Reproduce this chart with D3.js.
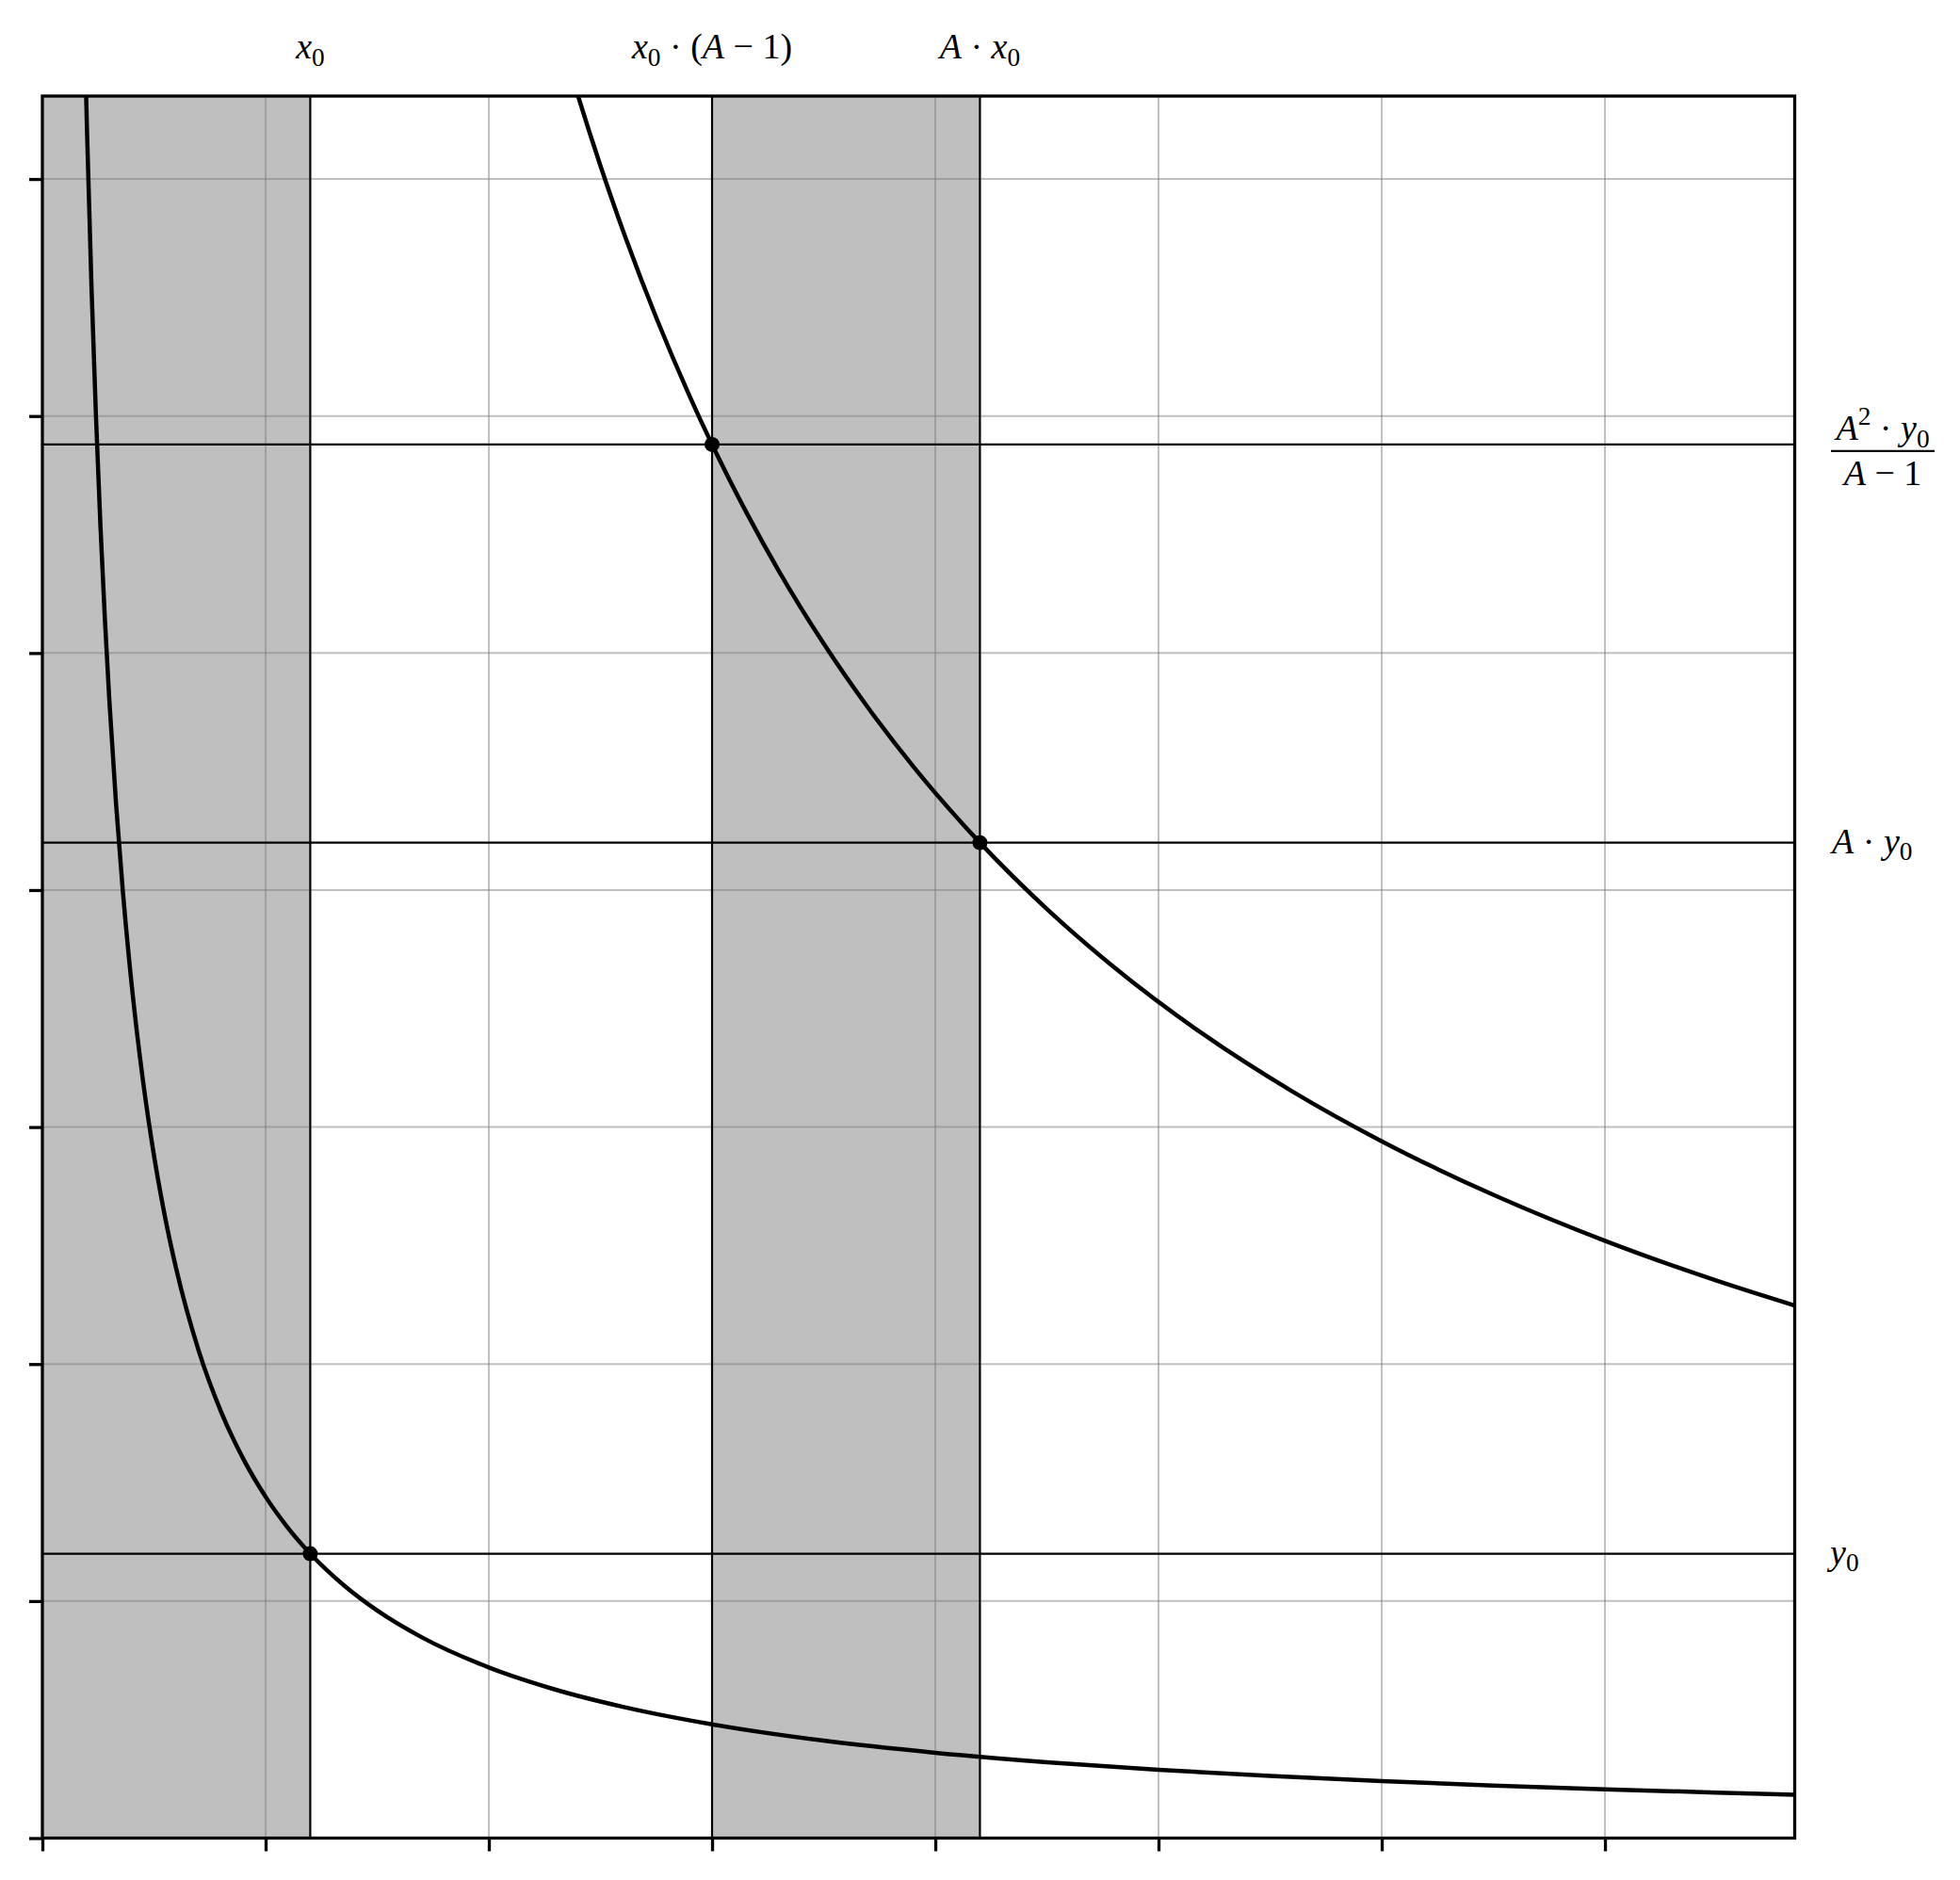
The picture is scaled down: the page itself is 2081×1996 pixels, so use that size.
<!DOCTYPE html>
<html>
<head>
<meta charset="utf-8">
<script src="https://cdn.jsdelivr.net/npm/d3@7"></script>
<style>
  body { margin: 0; background: #fff; }
  text { font-family: "Liberation Serif", "DejaVu Serif", serif; fill: #000; }
</style>
</head>
<body>
<svg id="chart" width="2081" height="1996"></svg>
<script>
//////////////////////////////////////
//////////// DATA ////////////////////
//////////////////////////////////////

// lower hyperbola (through x0, y0)
var lowX = [0.18, 0.19, 0.2, 0.22, 0.24, 0.26, 0.28, 0.3, 0.33, 0.36, 0.4, 0.45, 0.5, 0.55, 0.6, 0.7, 0.8, 0.9, 1.0, 1.1, 1.2,
            1.35, 1.5, 1.7, 2.0, 2.3, 2.6, 3.0, 3.5, 4.0, 4.5, 5.0, 5.5, 6.0, 6.5, 7.0, 7.5, 7.85];
var lowY = [8.0, 7.58, 7.2, 6.545, 6.0, 5.538, 5.143, 4.8, 4.364, 4.0, 3.6, 3.2, 2.88, 2.618, 2.4, 2.057, 1.8, 1.6, 1.44, 1.309, 1.2,
            1.067, 0.96, 0.847, 0.72, 0.626, 0.554, 0.48, 0.411, 0.36, 0.32, 0.288, 0.262, 0.24, 0.222, 0.206, 0.192, 0.183];

// upper hyperbola (through the two marked points)
var upX = [2.3, 2.4, 2.5, 2.6, 2.75, 2.9, 3.0, 3.15, 3.3, 3.5, 3.7, 3.9, 4.2, 4.5, 4.8, 5.2, 5.6, 6.0, 6.5, 7.0, 7.5, 7.85];
var upY = [7.67, 7.35, 7.056, 6.785, 6.415, 6.083, 5.88, 5.6, 5.345, 5.04, 4.768, 4.523, 4.2, 3.92, 3.675, 3.392, 3.15, 2.94, 2.714, 2.52, 2.352, 2.247];

// marked points
var markX = [1.2, 3.0, 4.2];
var markY = [1.2, 5.88, 4.2];

// shaded bands
var bandStart = [0, 3.0];
var bandEnd = [1.2, 4.2];

// reference lines
var vLines = [1.2, 3.0, 4.2];
var hLines = [1.2, 4.2, 5.88];

var xTicks = [0, 1, 2, 3, 4, 5, 6, 7];
var yTicks = [0, 1, 2, 3, 4, 5, 6, 7];

// labels: [text, style]  style: i = italic, sub, sup, "" = upright
var topLabels = [
  [["x", "i"], ["0", "sub"]],
  [["x", "i"], ["0", "sub"], ["\u00a0\u00b7\u00a0", ""], ["(", ""], ["A", "i"], ["\u00a0\u2212\u00a0", ""], ["1", ""], [")", ""]],
  [["A", "i"], ["\u00a0\u00b7\u00a0", ""], ["x", "i"], ["0", "sub"]]
];
var rightLabels = [
  [["y", "i"], ["0", "sub"]],
  [["A", "i"], ["\u00a0\u00b7\u00a0", ""], ["y", "i"], ["0", "sub"]]
];
var fracNum = [["A", "i"], ["2", "sup"], ["\u00a0\u00b7\u00a0", ""], ["y", "i"], ["0", "sub"]];
var fracDen = [["A", "i"], ["\u00a0\u2212\u00a0", ""], ["1", ""]];

//////////////////////////////////////
//////////// CHART ///////////////////
//////////////////////////////////////

var svg = d3.select("#chart");
var m = {left: 45, right: 1905.5, top: 102, bottom: 1951.5};
var fs = 38;

var x = d3.scaleLinear().domain([0, 7.85]).range([m.left, m.right]);
var y = d3.scaleLinear().domain([0, 7.35]).range([m.bottom, m.top]);

svg.append("rect").attr("width", 2081).attr("height", 1996).attr("fill", "#fff");

svg.append("clipPath").attr("id", "plot-clip")
  .append("rect")
    .attr("x", m.left).attr("y", m.top)
    .attr("width", m.right - m.left).attr("height", m.bottom - m.top);

var g = svg.append("g").attr("clip-path", "url(#plot-clip)");

// shaded bands
g.selectAll(".band")
  .data(d3.range(bandStart.length))
  .enter().append("rect")
    .attr("class", "band")
    .attr("x", function(i) { return x(bandStart[i]); })
    .attr("width", function(i) { return x(bandEnd[i]) - x(bandStart[i]); })
    .attr("y", m.top)
    .attr("height", m.bottom - m.top)
    .attr("fill", "#bfbfbf");

// grid
g.selectAll(".vgrid")
  .data(xTicks)
  .enter().append("line")
    .attr("x1", function(d) { return x(d); }).attr("x2", function(d) { return x(d); })
    .attr("y1", m.top).attr("y2", m.bottom)
    .attr("stroke", "#808080").attr("stroke-opacity", 0.5).attr("stroke-width", 2);
g.selectAll(".hgrid")
  .data(yTicks)
  .enter().append("line")
    .attr("y1", function(d) { return y(d); }).attr("y2", function(d) { return y(d); })
    .attr("x1", m.left).attr("x2", m.right)
    .attr("stroke", "#808080").attr("stroke-opacity", 0.5).attr("stroke-width", 2);

// reference lines
g.selectAll(".vline")
  .data(vLines)
  .enter().append("line")
    .attr("x1", function(d) { return x(d); }).attr("x2", function(d) { return x(d); })
    .attr("y1", m.top).attr("y2", m.bottom)
    .attr("stroke", "#000").attr("stroke-width", 2.2);
g.selectAll(".hline")
  .data(hLines)
  .enter().append("line")
    .attr("y1", function(d) { return y(d); }).attr("y2", function(d) { return y(d); })
    .attr("x1", m.left).attr("x2", m.right)
    .attr("stroke", "#000").attr("stroke-width", 2.2);

// curves
var line = d3.line()
    .x(function(d) { return x(d[0]); })
    .y(function(d) { return y(d[1]); })
    .curve(d3.curveMonotoneX);

[[lowX, lowY], [upX, upY]].forEach(function(s) {
  g.append("path")
    .datum(d3.zip(s[0], s[1]))
    .attr("d", line)
    .attr("fill", "none")
    .attr("stroke", "#000")
    .attr("stroke-width", 4.5);
});

// points
svg.selectAll(".dot")
  .data(d3.zip(markX, markY))
  .enter().append("circle")
    .attr("cx", function(d) { return x(d[0]); })
    .attr("cy", function(d) { return y(d[1]); })
    .attr("r", 8)
    .attr("fill", "#000");

// axes (ticks only, no labels)
svg.append("g")
    .attr("transform", "translate(0," + m.bottom + ")")
    .call(d3.axisBottom(x).tickValues(xTicks).tickSize(14).tickSizeOuter(0).tickFormat(""))
    .call(function(a) { a.select(".domain").remove(); a.selectAll("line").attr("stroke-width", 3.3); });
svg.append("g")
    .attr("transform", "translate(" + m.left + ",0)")
    .call(d3.axisLeft(y).tickValues(yTicks).tickSize(14).tickSizeOuter(0).tickFormat(""))
    .call(function(a) { a.select(".domain").remove(); a.selectAll("line").attr("stroke-width", 3.3); });

// frame
svg.append("rect")
    .attr("x", m.left).attr("y", m.top)
    .attr("width", m.right - m.left).attr("height", m.bottom - m.top)
    .attr("fill", "none").attr("stroke", "#000").attr("stroke-width", 3.3);

// math-ish text
function mathText(px, py, parts, anchor) {
  var t = svg.append("text")
      .attr("x", px).attr("y", py)
      .attr("text-anchor", anchor)
      .style("font-size", fs + "px");
  var shift = 0;
  parts.forEach(function(p) {
    var ts = t.append("tspan").text(p[0]);
    var target = 0, size = fs;
    if (p[1] === "sub") { target = 0.2 * fs; size = 0.72 * fs; }
    if (p[1] === "sup") { target = -0.42 * fs; size = 0.72 * fs; }
    if (p[1] === "i") ts.style("font-style", "italic");
    ts.style("font-size", size + "px");
    if (target !== shift) { ts.attr("dy", target - shift); shift = target; }
  });
  return t;
}

markX.forEach(function(v, i) {
  mathText(x(v), 62, topLabels[i], "middle");
});

mathText(1943, y(hLines[0]) + 11, rightLabels[0], "start");
mathText(1945, y(hLines[1]) + 11, rightLabels[1], "start");

var barY = y(hLines[2]) + 7;
svg.append("line")
    .attr("x1", 1944).attr("x2", 2054)
    .attr("y1", barY).attr("y2", barY)
    .attr("stroke", "#000").attr("stroke-width", 2.4);
mathText(1999, barY - 12, fracNum, "middle");
mathText(1999, barY + 36, fracDen, "middle");
</script>
</body>
</html>
